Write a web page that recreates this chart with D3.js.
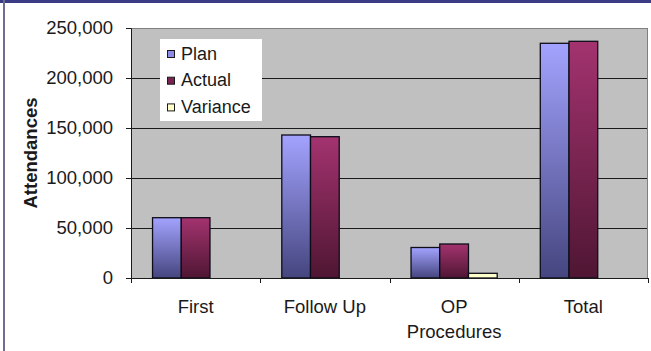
<!DOCTYPE html>
<html>
<head>
<meta charset="utf-8">
<script src="https://cdn.jsdelivr.net/npm/d3@7"></script>
<style>
  html, body { margin: 0; padding: 0; background: #ffffff; }
  svg { display: block; }
  text { font-family: "Liberation Sans", Arial, sans-serif; fill: #1a1a1a; }
</style>
</head>
<body>
<svg id="chart" width="651" height="351"></svg>
<script>
// Outpatient attendances: plan vs actual by attendance type
const categories = ["First", "Follow Up", "OP Procedures", "Total"];
const seriesNames = ["Plan", "Actual", "Variance"];
const planValues = [60300, 143000, 30500, 234700];
const actualValues = [60300, 141300, 34000, 236700];
const varianceValues = [0, 0, 4700, 0];
const yTicks = [0, 50000, 100000, 150000, 200000, 250000];

const seriesValues = [planValues, actualValues, varianceValues];

const svg = d3.select("#chart");
const W = 651, H = 351;
const plot = { left: 131, right: 648, top: 28, bottom: 278 };
const fontSize = 18.5;

// Chart frame: white area, dark title strip at the top, left edge line
svg.append("rect").attr("x", 0).attr("y", 0).attr("width", W).attr("height", H).attr("fill", "#ffffff");
svg.append("rect").attr("x", 0).attr("y", 0).attr("width", W).attr("height", 3).attr("fill", "#3b3b86");
svg.append("rect").attr("x", 3).attr("y", 0).attr("width", 2).attr("height", H).attr("fill", "#6f6f8f");

// Gradients for the bar fills
const defs = svg.append("defs");
const grads = [
  { id: "gPlan", top: "#a3a3ff", bottom: "#45457f" },
  { id: "gActual", top: "#a3336f", bottom: "#4f1633" },
];
grads.forEach(g => {
  const lg = defs.append("linearGradient").attr("id", g.id)
    .attr("x1", 0).attr("y1", 0).attr("x2", 0).attr("y2", 1);
  lg.append("stop").attr("offset", "0%").attr("stop-color", g.top);
  lg.append("stop").attr("offset", "100%").attr("stop-color", g.bottom);
});
const fills = ["url(#gPlan)", "url(#gActual)", "#ffffcc"];

// Scales
const x0 = d3.scaleBand().domain(categories).range([plot.left, plot.right]).padding(0);
const x1 = d3.scaleBand().domain(seriesNames).range([0, x0.bandwidth()])
  .paddingInner(0).paddingOuter(0.75);
const y = d3.scaleLinear().domain([0, 250000]).range([plot.bottom, plot.top]);

// Plot area background
svg.append("rect")
  .attr("x", plot.left).attr("y", plot.top)
  .attr("width", plot.right - plot.left).attr("height", plot.bottom - plot.top)
  .attr("fill", "#c0c0c0");

// Horizontal gridlines
svg.append("g").selectAll("line").data(yTicks.filter(t => t > 0)).join("line")
  .attr("x1", plot.left).attr("x2", plot.right)
  .attr("y1", d => Math.round(y(d)) + 0.5).attr("y2", d => Math.round(y(d)) + 0.5)
  .attr("stroke", d => d === 250000 ? "#808080" : "#1a1a1a").attr("stroke-width", 1);

// Right border of the plot area
svg.append("line")
  .attr("x1", plot.right - 0.5).attr("x2", plot.right - 0.5)
  .attr("y1", plot.top).attr("y2", plot.bottom)
  .attr("stroke", "#808080");

// Bars
const groups = svg.append("g").selectAll("g").data(categories).join("g")
  .attr("transform", d => `translate(${x0(d)},0)`);

groups.selectAll("rect")
  .data((c, ci) => seriesNames.map((s, si) => ({ s, si, v: seriesValues[si][ci] })).filter(d => d.v > 0))
  .join("rect")
  .attr("x", d => x1(d.s))
  .attr("y", d => y(d.v))
  .attr("width", x1.bandwidth())
  .attr("height", d => y(0) - y(d.v))
  .attr("fill", d => fills[d.si])
  .attr("stroke", "#0d0d1a")
  .attr("stroke-width", 1.3);

// Y axis
const yAxis = d3.axisLeft(y).tickValues(yTicks).tickFormat(d3.format(",")).tickSize(5).tickPadding(13);
const gy = svg.append("g").attr("transform", `translate(${plot.left},0)`).call(yAxis);
gy.select(".domain").attr("stroke", "#1a1a1a");
gy.selectAll(".tick line").attr("stroke", "#1a1a1a");
gy.selectAll(".tick text").attr("font-size", fontSize).attr("font-family", "Liberation Sans, Arial, sans-serif").attr("fill", "#1a1a1a");

// X axis baseline and category boundary ticks
svg.append("line")
  .attr("x1", plot.left).attr("x2", plot.right)
  .attr("y1", plot.bottom + 0.5).attr("y2", plot.bottom + 0.5)
  .attr("stroke", "#1a1a1a");
const bounds = categories.map(c => x0(c)).concat([plot.right - 0.5]);
svg.append("g").selectAll("line").data(bounds).join("line")
  .attr("x1", d => Math.round(d) + 0.5).attr("x2", d => Math.round(d) + 0.5)
  .attr("y1", plot.bottom).attr("y2", plot.bottom + 5)
  .attr("stroke", "#1a1a1a");

// Category labels (wrapped onto two lines where needed)
const catLines = { "OP Procedures": ["OP", "Procedures"] };
svg.append("g").selectAll("text").data(categories).join("text")
  .attr("x", d => x0(d) + x0.bandwidth() / 2)
  .attr("y", 313)
  .attr("text-anchor", "middle")
  .attr("font-size", fontSize)
  .each(function(d) {
    const lines = catLines[d] || [d];
    d3.select(this).selectAll("tspan").data(lines).join("tspan")
      .attr("x", x0(d) + x0.bandwidth() / 2)
      .attr("dy", (l, i) => i === 0 ? 0 : 25)
      .text(l => l);
  });

// Y axis title
svg.append("text")
  .attr("transform", "translate(37,153) rotate(-90)")
  .attr("text-anchor", "middle")
  .attr("font-size", fontSize)
  .attr("font-weight", "bold")
  .text("Attendances");

// Legend
const legend = svg.append("g").attr("transform", "translate(160,39)");
legend.append("rect").attr("width", 102).attr("height", 82).attr("fill", "#ffffff");
const legendFills = ["#8c8ce6", "#7a2350", "#ffffcc"];
const items = legend.selectAll("g").data(seriesNames).join("g")
  .attr("transform", (d, i) => `translate(0,${i * 26.7})`);
items.append("rect")
  .attr("x", 7.5).attr("y", 11.5).attr("width", 7).attr("height", 7)
  .attr("fill", (d, i) => legendFills[i])
  .attr("stroke", "#1a1a1a");
items.append("text")
  .attr("x", 21).attr("y", 20.5)
  .attr("font-size", 18)
  .text(d => d);
</script>
</body>
</html>
